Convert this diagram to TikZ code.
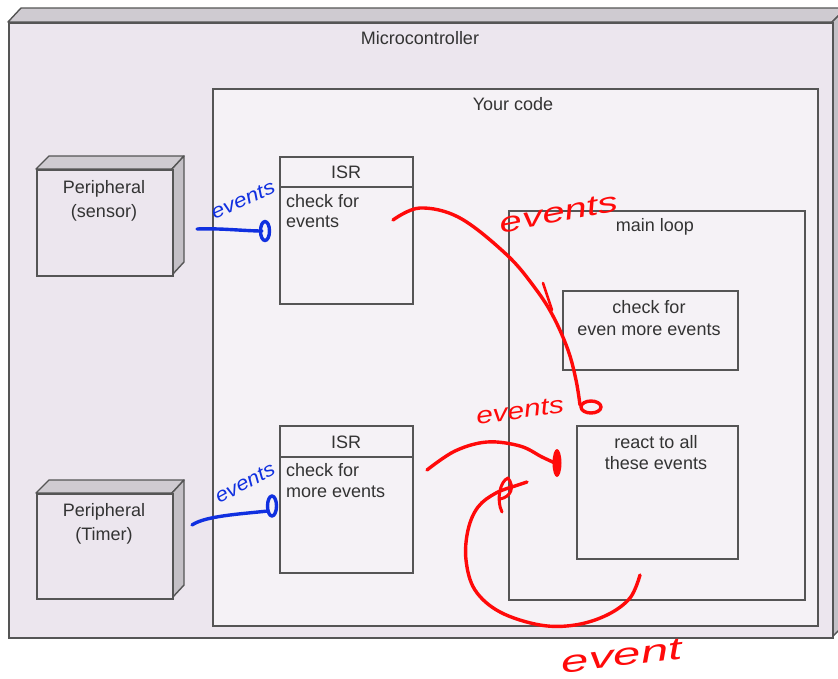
\documentclass[tikz,border=0pt]{standalone}
\usepackage{fontspec}
\setmainfont{Liberation Sans}
\newfontfamily\handfont{Liberation Sans}
\usetikzlibrary{arrows.meta}
\definecolor{mcfill}{HTML}{ECE6EE}
\definecolor{codefill}{HTML}{F5F2F6}
\definecolor{topface}{HTML}{CFCBD1}
\definecolor{sideface}{HTML}{C4C0C6}
\definecolor{edge}{HTML}{555555}
\definecolor{txtc}{HTML}{333333}
\definecolor{penred}{HTML}{FF0A0A}
\definecolor{penblue}{HTML}{1030E0}
\tikzset{
  boxstyle/.style={draw=edge, line width=1.6pt, fill=codefill, inner sep=0pt, anchor=north west},
  facestyle/.style={draw=edge, line width=1.4pt, line join=round},
  lbl/.style={text=txtc, inner sep=0pt, font=\fontsize{18}{21}\selectfont, align=center},
  redpen/.style={draw=penred, line width=3.4pt, line cap=round, line join=round},
  bluepen/.style={draw=penblue, line width=3.4pt, line cap=round, line join=round},
  redhand/.style={text=penred, inner sep=0pt, font=\handfont\itshape},
  bluehand/.style={text=penblue, inner sep=0pt, font=\handfont\itshape}
}
\begin{document}
\begin{tikzpicture}[x=1pt,y=-1pt]
\useasboundingbox (0,0) rectangle (838,678);
\fill[white] (0,0) rectangle (838,678);
\begin{scope}
\clip (0,0) rectangle (838,678);
% Microcontroller 3D box
\filldraw[facestyle, fill=topface] (8,22) -- (21,8) -- (846,8) -- (832,22) -- cycle;
\filldraw[facestyle, fill=sideface] (832,22) -- (846,8) -- (846,623) -- (832,637) -- cycle;
\node[boxstyle, fill=mcfill, minimum width=824, minimum height=615] (mc) at (8,22) {};
\end{scope}
\node[lbl] (mclabel) at (420,38) {Microcontroller};

% Your code
\node[boxstyle, minimum width=605, minimum height=537] (code) at (212,88) {};
\node[lbl] (codelabel) at (513,104) {Your code};

% Peripheral (sensor)
\filldraw[facestyle, fill=topface] (36,169) -- (49,156) -- (184,156) -- (172,169) -- cycle;
\filldraw[facestyle, fill=sideface] (172,169) -- (184,156) -- (184,262) -- (172,275) -- cycle;
\node[boxstyle, fill=mcfill, minimum width=136, minimum height=106] (sensor) at (36,169) {};
\node[lbl, anchor=north, font=\fontsize{18}{24}\selectfont] (sensorlabel) at (104,180) {Peripheral\\(sensor)};

% Peripheral (Timer)
\filldraw[facestyle, fill=topface] (36,493) -- (49,480) -- (184,480) -- (172,493) -- cycle;
\filldraw[facestyle, fill=sideface] (172,493) -- (184,480) -- (184,585) -- (172,598) -- cycle;
\node[boxstyle, fill=mcfill, minimum width=136, minimum height=105] (timer) at (36,493) {};
\node[lbl, anchor=north, font=\fontsize{18}{24}\selectfont] (timerlabel) at (104,503) {Peripheral\\(Timer)};

% ISR 1
\node[boxstyle, minimum width=133, minimum height=147] (isrA) at (279,156) {};
\draw[draw=edge, line width=1.6pt] (279,187) -- (412,187);
\node[lbl] (isrAtitle) at (346,172) {ISR};
\node[lbl, anchor=north west, align=left, font=\fontsize{18}{20}\selectfont] (isrAtext) at (286,194) {check for\\events};

% ISR 2
\node[boxstyle, minimum width=133, minimum height=147] (isrB) at (279,425) {};
\draw[draw=edge, line width=1.6pt] (279,457) -- (412,457);
\node[lbl] (isrBtitle) at (346,442) {ISR};
\node[lbl, anchor=north west, align=left, font=\fontsize{18}{21}\selectfont] (isrBtext) at (286,463) {check for\\more events};

% main loop
\node[boxstyle, minimum width=296, minimum height=389] (loop) at (508,210) {};
\node[lbl] (looplabel) at (655,227) {main loop};

\node[boxstyle, minimum width=175, minimum height=79] (checkmore) at (562,290) {};
\node[lbl, anchor=north, font=\fontsize{18}{22}\selectfont] (checkmoretext) at (649,300) {check for\\even more events};

\node[boxstyle, minimum width=161, minimum height=133] (react) at (576,425) {};
\node[lbl, anchor=north, font=\fontsize{18}{21}\selectfont] (reacttext) at (656,435) {react to all\\these events};

% ---- handwritten annotations ----
% blue: sensor -> ISR 1
\coordinate (bA1) at (197,229);
\coordinate (bA2) at (262,231);
\draw[bluepen] (bA1) .. controls (220,228) and (245,231) .. (bA2);
\draw[bluepen] (265,231) ellipse [x radius=4.5, y radius=9.5];
\node[bluehand, font=\handfont\itshape\fontsize{20}{20}\selectfont, rotate=24, xscale=1.15] (bAtext) at (243,200) {events};

% blue: timer -> ISR 2
\coordinate (bB1) at (192,525);
\coordinate (bB2) at (268,511);
\draw[bluepen] (bB1) .. controls (205,516) and (240,514) .. (bB2);
\draw[bluepen] (272,506) ellipse [x radius=4.5, y radius=10];
\node[bluehand, font=\handfont\itshape\fontsize{20}{20}\selectfont, rotate=28, xscale=1.1] (bBtext) at (245,483) {events};

% red: ISR 1 -> main loop
\draw[redpen] plot[smooth, tension=0.6] coordinates {(393,220) (420,208) (460,218) (507,255) (535,288) (553,316) (568,350) (576,380) (580,405)};
\draw[redpen, line width=2.6pt] (543,283) -- (552,310);
\draw[redpen] (591,407) ellipse [x radius=10, y radius=6];
\node[redhand, font=\handfont\itshape\fontsize{28}{28}\selectfont, rotate=11, xscale=1.45] (rAtext) at (559,213) {events};
\node[redhand, font=\handfont\itshape\fontsize{24}{24}\selectfont, rotate=8, xscale=1.25] (rBtext) at (520,411) {events};

% red: ISR 2 -> react
\draw[redpen] plot[smooth, tension=0.6] coordinates {(427,470) (455,451) (487,442) (520,446) (542,457) (555,463)};
\fill[penred] (557,463) ellipse [x radius=4.5, y radius=14];

% red loop
\draw[redpen] plot[smooth, tension=0.6] coordinates {(640,575) (630,598) (607,615) (575,625) (540,625) (500,612) (475,590) (466,560) (468,530) (478,507) (496,493) (518,485) (527,482)};
\draw[redpen, line width=3pt] (500,499) .. controls (511,497) and (515,487) .. (508,478) .. controls (500,481) and (496,500) .. (502,512);
\node[redhand, font=\handfont\itshape\fontsize{31}{31}\selectfont, rotate=7, xscale=1.6] (rCtext) at (622,656) {event};
\end{tikzpicture}
\end{document}
